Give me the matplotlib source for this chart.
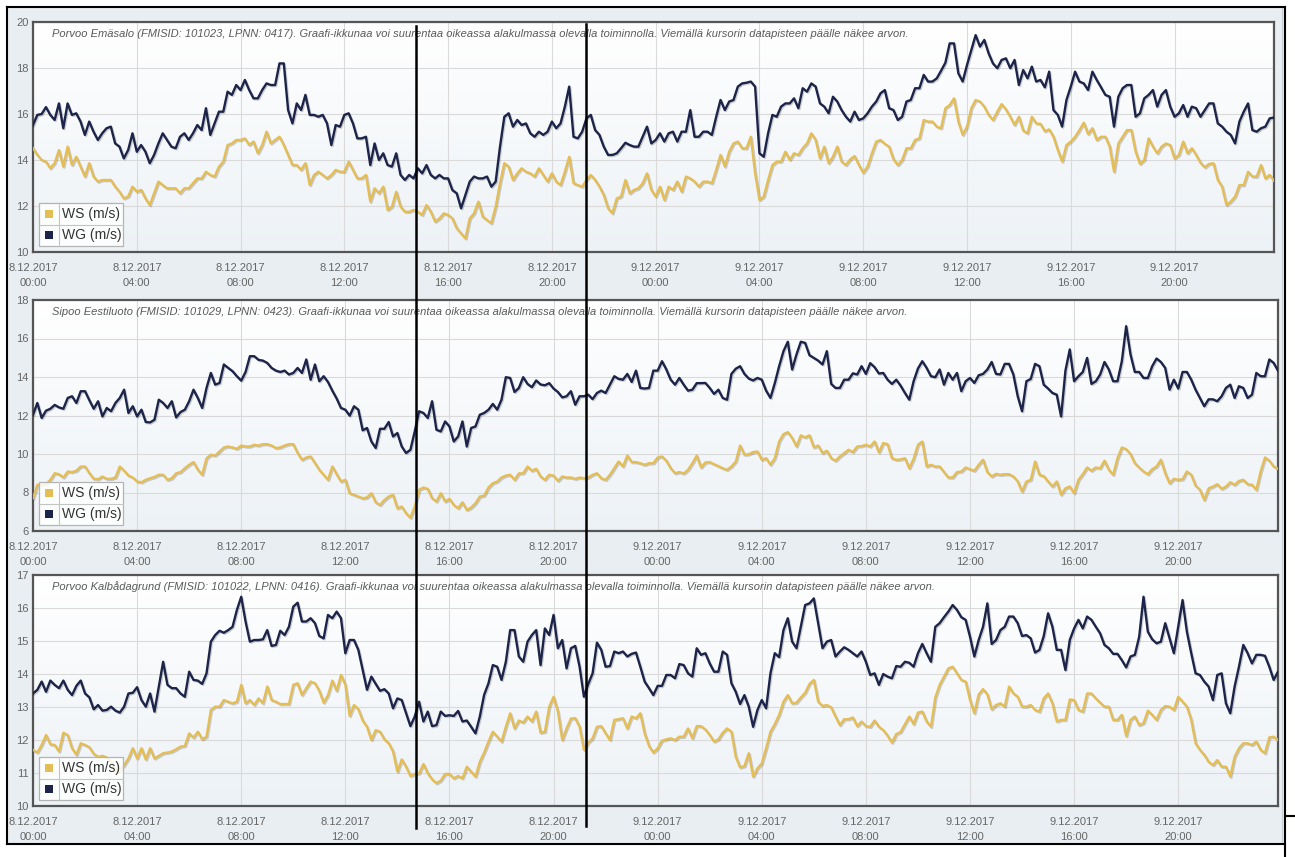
import numpy as np
import pandas as pd
import matplotlib
matplotlib.use("Agg")
import matplotlib.pyplot as plt
import matplotlib.dates as mdates
import matplotlib.patheffects as pe
import matplotlib.transforms as mtransforms
from matplotlib.patches import Rectangle
from matplotlib.lines import Line2D
from matplotlib.colors import LinearSegmentedColormap
from matplotlib.ticker import MultipleLocator, NullFormatter

plt.rcParams['font.family'] = ['Liberation Sans', 'DejaVu Sans']

W, H = 1295, 857

# 10-minute observations, 8.12.2017 00:00 - 9.12.2017 23:50
times = pd.date_range("2017-12-08 00:00", periods=288, freq="10min")

series_labels = ["WS (m/s)", "WG (m/s)"]

emasalo_title = ("Porvoo Emäsalo (FMISID: 101023, LPNN: 0417). Graafi-ikkunaa voi suurentaa oikeassa "
                 "alakulmassa olevalla toiminnolla. Viemällä kursorin datapisteen päälle näkee arvon.")
eestiluoto_title = ("Sipoo Eestiluoto (FMISID: 101029, LPNN: 0423). Graafi-ikkunaa voi suurentaa oikeassa "
                    "alakulmassa olevalla toiminnolla. Viemällä kursorin datapisteen päälle näkee arvon.")
kalbadagrund_title = ("Porvoo Kalbådagrund (FMISID: 101022, LPNN: 0416). Graafi-ikkunaa voi suurentaa oikeassa "
                      "alakulmassa olevalla toiminnolla. Viemällä kursorin datapisteen päälle näkee arvon.")

emasalo_wg = [
    15.52, 15.96, 16.0, 16.3, 15.96, 15.74, 16.46, 15.38, 16.46, 15.96,
    16.03, 15.67, 15.09, 15.67, 15.23, 14.87, 15.16, 15.38, 15.45, 14.72,
    14.58, 14.07, 14.43, 15.16, 14.36, 14.65, 14.36, 13.86, 14.22, 14.72,
    15.16, 14.87, 14.58, 14.51, 15.01, 15.16, 14.87, 15.16, 15.52, 15.30,
    16.25, 15.09, 15.59, 16.1, 16.1, 16.97, 16.83, 17.26, 17.04, 17.48,
    17.04, 16.68, 16.68, 17.04, 17.33, 17.26, 17.26, 18.2, 18.2, 16.17,
    15.59, 16.46, 16.17, 16.83, 15.96, 15.96, 15.88, 15.96, 15.59, 14.65,
    15.52, 15.45, 15.96, 16.03, 15.59, 14.94, 14.94, 15.01, 13.78, 14.72,
    14.0, 14.29, 13.78, 13.71, 14.29, 13.35, 13.13, 13.35, 13.2, 13.64,
    13.42, 13.78, 13.35, 13.2, 13.35, 13.2,
    13.2, 12.69, 12.55, 11.9, 12.48, 13.06, 13.28, 13.2, 13.2, 13.28,
    12.84, 13.06, 14.58, 15.88, 16.03, 15.45, 15.74, 15.52, 15.59, 15.16,
    15.01, 15.23, 15.09, 15.23, 15.67, 15.38, 15.59, 16.32, 17.19, 15.01,
    14.94, 15.23, 15.81, 15.96, 15.3, 15.09, 14.58, 14.22, 14.22, 14.29,
    14.51, 14.75, 14.65, 14.58, 14.58, 15.01, 15.45, 14.72, 14.87, 15.16,
    14.8, 15.16, 15.23, 14.8, 15.23, 15.23, 16.17, 15.01, 15.01, 15.23,
    15.23, 15.09, 15.88, 16.61, 16.17, 16.54, 16.61, 17.19, 17.33, 17.36,
    17.41, 17.19, 14.29, 14.14, 15.16, 15.96, 15.88, 16.32, 16.46, 16.46,
    16.68, 16.25, 17.12, 16.97, 17.33, 17.19, 16.46, 16.32, 16.03, 16.75,
    16.54, 16.17, 15.88,
    15.67, 16.1, 15.74, 15.81, 16.03, 16.32, 16.54, 16.9, 17.04, 16.25,
    16.17, 15.74, 15.88, 16.54, 16.61, 17.12, 17.12, 17.7, 17.41, 17.41,
    17.55, 17.88, 18.23, 19.07, 19.07, 17.77, 17.41, 18.13, 18.78, 19.43,
    18.93, 19.22, 18.64, 18.2, 17.99, 18.35, 18.42, 17.99, 18.35, 17.26,
    17.91, 17.55, 18.06, 17.41, 17.48, 17.16, 17.84, 16.17, 15.96, 15.45,
    16.61, 17.19, 17.84, 17.41, 17.33, 17.04, 17.84, 17.48, 17.16, 16.83,
    16.75, 15.45, 16.75, 17.12, 17.26, 17.26, 15.88, 16.03, 16.68, 16.83,
    17.04, 16.32, 16.83, 17.04, 16.32, 15.88, 16.03, 16.39, 15.88, 16.32,
    16.25, 15.88, 16.17, 16.46, 16.46, 15.59, 15.45, 15.23, 15.09, 14.72,
    15.67, 16.1, 16.46, 15.3, 15.23, 15.38, 15.45, 15.81, 15.85,
]

emasalo_ws = [
    14.51, 14.22, 14.0, 13.93, 13.64, 13.86, 14.43, 13.71, 14.58, 13.78,
    14.14, 13.71, 13.28, 13.86, 13.28, 13.06, 13.13, 13.13, 13.13, 12.84,
    12.62, 12.33, 12.41, 12.84, 12.62, 12.7, 12.33, 12.04, 12.55, 13.06,
    12.91, 12.77, 12.77, 12.77, 12.55, 12.77, 12.77, 12.99, 13.2, 13.2,
    13.49, 13.35, 13.28, 13.71, 13.93, 14.65, 14.72, 14.87, 14.87, 14.94,
    14.65, 14.8, 14.29, 14.65, 15.23, 14.72, 14.87, 15.01, 14.65, 14.22,
    13.78, 13.78, 13.57, 13.86, 12.91, 13.35, 13.49, 13.35, 13.2, 13.35,
    13.57, 13.49, 13.49, 13.93, 13.57, 13.2, 13.2, 13.35, 12.19, 12.77,
    12.55, 12.84, 11.83, 11.97, 12.62, 11.97, 11.75, 11.75, 11.83, 11.75,
    11.61, 12.04, 11.75, 11.32, 11.46, 11.68,
    11.61, 11.46, 11.03, 10.81, 10.59, 11.46, 11.68, 12.19, 11.54, 11.39,
    11.25, 11.97, 12.99, 13.86, 13.71, 13.13, 13.42, 13.64, 13.49, 13.42,
    13.28, 13.64, 13.35, 13.06, 13.42, 13.06, 12.91, 13.49, 14.14, 12.99,
    12.91, 12.84, 13.13, 13.35, 13.13, 12.84, 12.48, 11.9, 11.68, 12.33,
    12.41, 13.13, 12.55, 12.7, 12.77, 12.99, 13.42, 12.7, 12.41, 12.84,
    12.26, 12.84, 12.7, 13.06, 12.62, 13.28, 13.2, 13.06, 12.84, 13.06,
    13.06, 12.99, 13.57, 14.22, 13.71, 14.36, 14.72, 14.8, 14.51, 14.51,
    15.01, 13.42, 12.26, 12.41, 13.13, 13.78, 13.93, 13.93, 14.36, 14.0,
    14.29, 14.22, 14.51, 14.72, 15.16, 14.87, 14.07, 14.58, 13.86, 14.14,
    14.58, 13.93, 13.78,
    14.03, 14.17, 13.78, 13.45, 13.71, 14.29, 14.8, 14.87, 14.7, 14.58,
    14.03, 13.78, 14.0, 14.51, 14.51, 14.87, 14.94, 15.74, 15.67, 15.67,
    15.45, 15.38, 16.25, 16.39, 16.68, 15.67, 15.09, 15.45, 16.25, 16.61,
    16.54, 16.32, 15.96, 15.74, 16.1, 16.43, 16.2, 15.88, 15.52, 15.88,
    15.28, 15.16, 15.88, 15.59, 15.57, 15.25, 15.33, 15.01, 14.43, 13.93,
    14.65, 14.8, 15.01, 15.3, 15.62, 15.13, 15.38, 14.87, 15.01, 15.01,
    14.58, 13.49, 14.72, 15.01, 15.3, 15.3, 14.36, 13.83, 14.0, 14.94,
    14.58, 14.29, 14.58, 14.72, 14.65, 14.07, 14.22, 14.8, 14.29, 14.51,
    14.22, 13.88, 13.68, 13.83, 13.86, 13.13, 12.84, 12.04, 12.19, 12.41,
    12.91, 12.91, 13.49, 13.28, 13.28, 13.78, 13.2, 13.35, 13.1,
]

eestiluoto_wg = [
    12.04, 12.65, 11.87, 12.25, 12.35, 12.55, 12.42, 12.35, 12.91, 13.0,
    12.65, 13.26, 13.26, 12.79, 12.35, 12.74, 11.95, 12.39, 12.22, 12.65,
    12.91, 13.34, 12.13, 12.48, 11.95, 12.3, 11.66, 11.64, 11.78, 12.82,
    12.65, 12.39, 12.74, 11.9, 12.18, 12.3, 12.74, 13.34, 12.91, 12.39,
    13.43, 14.21, 13.6, 13.69, 14.65, 14.47, 14.3, 14.04, 13.81, 14.26,
    15.08, 15.08, 14.89, 14.85, 14.73, 14.47, 14.33, 14.26, 14.33, 14.13,
    14.21, 14.47, 14.21, 14.91, 13.86, 14.65, 13.78, 14.04, 13.74, 13.29,
    12.88, 12.39, 12.3, 11.99, 12.48, 12.3, 11.23, 11.35, 10.65, 10.31,
    11.31, 11.31, 11.66, 10.91, 11.09, 10.39, 10.05, 10.22, 11.17, 12.22,
    12.13, 11.87, 12.74, 11.26, 11.17, 11.69,
    11.43, 10.65, 10.91, 11.69, 10.39, 11.35, 11.43, 12.04, 12.13, 12.3,
    12.6, 12.3, 12.82, 13.99, 13.95, 13.22, 13.43, 13.99, 13.64, 13.47,
    13.82, 13.61, 13.57, 13.68, 13.4, 13.22, 12.94, 13.0, 13.26, 12.56,
    13.0, 13.0, 13.08, 12.85, 13.17, 13.29, 13.17, 13.6, 14.04, 13.9,
    13.86, 14.16, 13.74, 14.33, 13.43, 13.4, 13.43, 14.33, 14.33, 14.82,
    14.39, 13.86, 13.6, 13.95, 13.6, 13.29, 13.34, 13.68, 13.68, 13.69,
    13.43, 13.12, 13.34, 12.91, 12.82, 14.16, 14.43, 14.56, 14.16, 13.92,
    13.82, 13.95, 13.86, 13.29, 12.91, 13.68, 14.56, 15.34, 15.83, 14.39,
    15.17, 15.83, 15.77, 15.13, 14.99, 14.85, 14.65, 15.34, 13.64, 13.43,
    13.43, 13.86, 13.86,
    14.19, 14.13, 14.56, 14.16, 14.72, 14.51, 14.18, 14.21, 13.86, 13.64,
    13.86, 13.55, 13.17, 12.82, 13.78, 14.44, 14.82, 14.47, 14.04, 13.99,
    14.39, 13.6, 14.21, 13.86, 14.21, 13.26, 13.78, 13.95, 13.69, 14.09,
    14.16, 14.39, 14.78, 14.16, 14.13, 14.68, 14.68, 14.13, 13.0, 12.22,
    13.78, 13.9, 14.68, 14.56, 13.6, 13.4, 13.17, 13.08, 11.95, 14.33,
    15.43, 13.78, 14.04, 14.26, 14.99, 13.64, 13.78, 14.13, 14.78, 14.39,
    13.78, 13.78, 14.82, 16.64, 15.17, 14.26, 14.26, 13.95, 13.95, 14.56,
    14.96, 14.78, 14.47, 13.34, 13.86, 13.4, 14.26, 14.26, 13.86, 13.34,
    12.91, 12.48, 12.84, 12.84, 12.74, 13.0, 13.43, 13.6, 12.91, 13.52,
    13.43, 12.91, 13.08, 14.21, 14.04, 14.04, 14.91, 14.73, 14.33,
]

eestiluoto_ws = [
    7.7, 8.4, 8.4, 8.43, 8.66, 9.0, 8.95, 8.78, 9.09, 9.06,
    9.13, 9.35, 9.35, 9.0, 8.71, 8.69, 8.83, 8.71, 8.71, 8.78,
    9.35, 9.13, 8.88, 8.78, 8.57, 8.53, 8.66, 8.74, 8.81, 8.92,
    8.92, 8.66, 8.74, 9.0, 9.06, 9.26, 9.44, 9.58, 9.18, 8.92,
    9.78, 9.96, 9.92, 10.13, 10.34, 10.39, 10.34, 10.27, 10.44, 10.39,
    10.39, 10.48, 10.44, 10.51, 10.51, 10.44, 10.31, 10.34, 10.44, 10.51,
    10.51, 10.05, 9.7, 9.82, 9.87, 9.52, 9.18, 8.92, 8.66, 9.35,
    8.95, 8.57, 8.66, 7.96, 7.88, 7.79, 7.7, 7.74, 7.96, 7.49,
    7.35, 7.61, 7.79, 7.88, 7.18, 7.27, 6.92, 6.69, 7.27, 8.14,
    8.26, 8.19, 7.7, 7.53, 7.96, 7.53,
    7.67, 7.35, 7.18, 7.49, 7.09, 7.22, 7.44, 7.79, 7.84, 8.26,
    8.48, 8.57, 8.78, 8.88, 8.92, 8.66, 8.99, 9.0, 9.35, 9.13,
    9.23, 8.83, 8.66, 8.92, 8.88, 8.6, 8.83, 8.78, 8.78, 8.71,
    8.78, 8.74, 8.78, 8.92, 9.0, 8.74, 8.66, 8.92, 9.26, 9.61,
    9.35, 9.92, 9.58, 9.58, 9.52, 9.44, 9.52, 9.52, 9.82, 9.87,
    9.65, 9.26, 9.0, 9.06, 8.99, 9.18, 9.52, 9.92, 9.3, 9.56,
    9.58, 9.47, 9.37, 9.26, 9.18, 9.35, 9.61, 10.44, 9.96, 9.99,
    10.1, 10.13, 9.7, 9.78, 9.44, 9.78, 10.65, 11.03, 11.14, 10.83,
    10.39, 10.97, 10.86, 10.97, 10.34, 10.44, 10.05, 10.17, 9.78, 9.65,
    9.87, 10.05, 10.22,
    10.1, 10.39, 10.41, 10.48, 10.39, 10.65, 10.08, 10.57, 10.51, 9.78,
    9.7, 9.72, 9.78, 9.26, 9.75, 10.48, 10.65, 9.35, 9.44, 9.35,
    9.35, 9.06, 8.78, 8.78, 9.06, 9.09, 9.3, 9.21, 9.13, 9.44,
    9.7, 9.06, 8.83, 8.97, 8.92, 8.95, 8.95, 8.83, 8.57, 8.05,
    8.57, 8.66, 9.61, 8.92, 8.85, 8.57, 8.31, 8.57, 7.88, 8.22,
    8.31, 7.96, 8.66, 8.95, 9.3, 9.13, 9.3, 9.26, 9.65, 9.18,
    8.92, 9.78, 10.34, 10.25, 9.99, 9.52, 9.3, 9.09, 8.95, 9.21,
    9.35, 9.7, 9.0, 8.48, 8.71, 8.66, 8.69, 9.09, 8.92, 8.36,
    8.14, 7.61, 8.22, 8.31, 8.43, 8.19, 8.31, 8.53, 8.4, 8.6,
    8.66, 8.43, 8.4, 8.14, 9.09, 9.82, 9.65, 9.35, 9.23,
]

kalbadagrund_wg = [
    13.41, 13.52, 13.77, 13.46, 13.8, 13.67, 13.57, 13.8, 13.52, 13.36,
    13.64, 13.8, 13.41, 13.29, 12.93, 13.06, 12.89, 12.91, 13.01, 12.89,
    12.83, 13.01, 13.41, 13.43, 13.6, 13.21, 13.01, 13.41, 12.86, 13.62,
    14.37, 13.67, 13.57, 13.57, 13.41, 13.31, 14.07, 13.82, 13.8, 13.7,
    14.02, 14.98, 15.18, 15.31, 15.25, 15.33, 15.43, 15.94, 16.34, 15.59,
    14.98, 15.03, 15.03, 15.05, 15.33, 14.85, 14.88, 15.31, 15.18, 15.43,
    16.04, 16.16, 15.59, 15.59, 15.69, 15.54, 15.15, 15.08, 15.79, 15.69,
    15.89, 15.69, 14.63, 15.03, 15.03, 14.73, 14.12, 13.52, 13.92, 13.7,
    13.49, 13.54, 13.41, 12.96, 13.26, 13.21, 12.81, 12.42, 12.71, 13.16,
    12.56, 12.86, 12.42, 12.45, 12.86, 12.73,
    12.75, 12.73, 12.88, 12.56, 12.59, 12.4, 12.2, 12.71, 13.37, 13.72,
    14.27, 14.22, 13.82, 14.37, 15.33, 15.33, 14.53, 14.37, 14.98, 15.18,
    15.33, 14.27, 15.38, 15.18, 15.79, 14.78, 15.03, 14.17, 14.78, 14.85,
    14.22, 13.31, 13.7, 14.02, 14.95, 14.73, 14.22, 14.24, 14.68, 14.63,
    14.68, 14.53, 14.61, 14.65, 14.22, 13.77, 13.57, 13.36, 13.64, 13.64,
    13.97, 13.97, 13.87, 14.3, 14.27, 14.02, 13.92, 14.78, 14.58, 14.63,
    14.32, 14.07, 14.07, 14.68, 14.58, 13.72, 13.46, 13.09, 13.36, 13.01,
    12.4, 12.91, 13.21, 12.96, 14.02, 14.63, 14.51, 15.33, 15.69, 14.98,
    14.78, 15.43, 16.09, 16.14, 16.29, 15.54, 14.78, 14.98, 15.03, 14.53,
    14.68, 14.81, 14.73,
    14.63, 14.53, 14.68, 14.37, 13.97, 14.02, 13.67, 14.0, 13.92, 13.87,
    14.24, 14.22, 14.37, 14.34, 14.22, 14.63, 14.91, 14.63, 14.37, 15.43,
    15.54, 15.72, 15.89, 16.09, 15.94, 15.72, 15.64, 15.13, 14.53, 15.03,
    15.43, 16.14, 14.91, 15.03, 15.33, 15.43, 15.74, 15.74, 15.54, 15.15,
    15.18, 15.08, 14.65, 14.73, 15.15, 15.84, 15.43, 14.73, 14.73, 14.12,
    15.03, 15.38, 15.64, 15.38, 15.74, 15.64, 15.43, 15.23, 14.88, 14.78,
    14.61, 14.61, 14.42, 14.2, 14.53, 14.58, 15.13, 16.34, 15.28, 15.05,
    14.93, 14.98, 15.54, 15.08, 14.63, 15.43, 16.24, 15.28, 14.63, 14.02,
    13.97, 13.77, 13.62, 13.21, 13.97, 14.02, 13.11, 12.81, 13.62, 14.22,
    14.88, 14.63, 14.32, 14.58, 14.58, 14.55, 14.22, 13.82, 14.07,
]

kalbadagrund_ws = [
    11.7, 11.62, 11.85, 12.15, 11.87, 11.85, 11.65, 12.22, 12.15, 11.75,
    11.55, 11.9, 11.85, 11.78, 11.58, 11.49, 11.52, 11.47, 11.34, 10.99,
    11.09, 11.24, 11.44, 11.75, 11.44, 11.75, 11.41, 11.75, 11.44, 11.52,
    11.6, 11.62, 11.65, 11.72, 11.8, 11.82, 12.2, 12.07, 12.25, 12.02,
    12.1, 12.91, 13.01, 13.01, 13.21, 13.16, 13.11, 13.16, 13.67, 13.11,
    13.21, 13.06, 13.26, 13.11, 13.62, 13.21, 13.16, 13.09, 13.09, 13.09,
    13.67, 13.72, 13.36, 13.57, 13.77, 13.72, 13.49, 13.13, 13.36, 13.8,
    13.49, 13.97, 13.67, 12.73, 13.06, 12.93, 12.59, 12.4, 12.0, 12.3,
    12.25, 12.02, 11.9, 11.65, 11.04, 11.41, 11.19, 10.91, 10.97, 10.99,
    11.27, 10.99, 10.81, 10.69, 10.77, 10.97,
    10.97, 10.84, 10.91, 10.84, 11.19, 11.04, 10.89, 11.34, 11.62, 11.95,
    12.25, 12.1, 11.95, 12.4, 12.81, 12.35, 12.59, 12.53, 12.71, 12.56,
    12.86, 12.22, 12.25, 13.01, 13.31, 12.86, 12.0, 12.35, 12.65, 12.66,
    12.4, 11.7, 11.92, 12.05, 12.4, 12.42, 12.2, 12.0, 12.61, 12.63,
    12.66, 12.35, 12.71, 12.66, 12.81, 12.2, 11.82, 11.62, 11.75, 11.98,
    12.02, 12.05, 12.0, 12.1, 12.1, 12.35, 12.05, 12.42, 12.42, 12.32,
    12.15, 11.95, 12.02, 12.22, 12.35, 12.25, 11.49, 11.17, 11.21, 11.6,
    10.89, 11.14, 11.29, 11.75, 12.25, 12.48, 12.76, 13.16, 13.36, 13.11,
    13.13, 13.29, 13.43, 13.7, 13.82, 13.16, 13.03, 13.06, 12.99, 12.71,
    12.45, 12.63, 12.63,
    12.68, 12.42, 12.56, 12.42, 12.4, 12.59, 12.4, 12.3, 12.13, 11.92,
    12.18, 12.24, 12.48, 12.71, 12.48, 12.83, 12.86, 12.56, 12.4, 13.29,
    13.67, 13.92, 14.17, 14.22, 14.02, 13.82, 13.77, 13.21, 12.81, 13.38,
    13.54, 13.38, 12.93, 13.06, 13.11, 13.01, 13.62, 13.41, 13.31, 13.01,
    13.01, 13.06, 12.91, 12.86, 13.26, 13.41, 13.11, 12.56, 12.61, 12.61,
    13.23, 13.21, 12.91, 12.86, 13.41, 13.41, 13.26, 13.13, 13.01, 13.01,
    12.61, 12.61, 12.76, 12.12, 12.61, 12.71, 12.45, 12.51, 12.89, 12.76,
    12.61, 12.91, 13.03, 13.01, 12.91, 13.31, 13.16, 13.01, 12.61, 11.9,
    11.7, 11.55, 11.34, 11.24, 11.39, 11.19, 11.19, 10.89, 11.49, 11.75,
    11.9, 11.9, 11.85, 11.95, 11.7, 11.6, 12.08, 12.1, 12.0,
]

WS_COLOR = "#e4bd55"
WG_COLOR = "#1c2449"
BG_COLOR = "#e9eef2"
TEXT_COLOR = "#666666"

# plot boxes in pixels: left, top, right, bottom
panels = [
    dict(title=emasalo_title, ws=emasalo_ws, wg=emasalo_wg, ylim=(10, 20), ystep=2,
         box=(33, 22, 1274, 252)),
    dict(title=eestiluoto_title, ws=eestiluoto_ws, wg=eestiluoto_wg, ylim=(6, 18), ystep=2,
         box=(33, 300, 1278, 531)),
    dict(title=kalbadagrund_title, ws=kalbadagrund_ws, wg=kalbadagrund_wg, ylim=(10, 17), ystep=1,
         box=(33, 575, 1278, 806)),
]


def fx(px):
    return px / W


def fy(py):
    return 1 - py / H


def fig_rect(l, t, r, b):
    return [l / W, 1 - b / H, (r - l) / W, (b - t) / H]


fig = plt.figure(figsize=(W / 100, H / 100), dpi=100)
fig.patch.set_facecolor("white")

# chart container background
fig.add_artist(Rectangle((fx(7), fy(844)), fx(1285) - fx(7), fy(7) - fy(844),
                         transform=fig.transFigure, facecolor=BG_COLOR,
                         edgecolor="none", zorder=-10))

grad = np.linspace(0, 1, 256).reshape(-1, 1)
plot_bg = LinearSegmentedColormap.from_list("plot_bg", ["#ffffff", "#edf2f6"])
shadow = [pe.SimpleLineShadow(offset=(0.8, -0.8), shadow_color="black", alpha=0.18),
          pe.Normal()]
tick_hours = mdates.HourLocator(byhour=range(0, 24, 4))

for p in panels:
    ax = fig.add_axes(fig_rect(*p["box"]))
    ax.imshow(grad, extent=[0, 1, 0, 1], transform=ax.transAxes, cmap=plot_bg,
              aspect="auto", origin="upper", zorder=0, interpolation="bilinear")
    ax.plot(times, p["ws"], color=WS_COLOR, lw=1.7, zorder=3,
            solid_joinstyle="round", path_effects=shadow)
    ax.plot(times, p["wg"], color=WG_COLOR, lw=1.7, zorder=4,
            solid_joinstyle="round", path_effects=shadow)
    ax.set_xlim(times[0], times[-1])
    ax.set_ylim(*p["ylim"])
    ax.yaxis.set_major_locator(MultipleLocator(p["ystep"]))
    ax.xaxis.set_major_locator(tick_hours)
    ax.xaxis.set_major_formatter(NullFormatter())
    ax.tick_params(axis="both", length=0, labelsize=8, labelcolor=TEXT_COLOR)
    ax.tick_params(axis="y", pad=3)
    ax.grid(True, color="#dadada", lw=0.8)
    ax.set_axisbelow(True)
    for s in ax.spines.values():
        s.set_color("#555555")
        s.set_linewidth(1.6)

    # two-line date/time labels under every 4-hour gridline
    xform = mtransforms.blended_transform_factory(ax.transData, ax.transAxes)
    for tv in ax.get_xticks():
        d = mdates.num2date(tv)
        for text, off in [(f"{d.day}.{d.month}.{d.year}", 16), (f"{d:%H:%M}", 31)]:
            ax.text(tv, 0, text, transform=xform + mtransforms.ScaledTranslation(0, -off / 100, fig.dpi_scale_trans),
                    ha="center", va="center", fontsize=8, color=TEXT_COLOR, clip_on=False)

    l, t, r, b = p["box"]
    fig.text(fx(l + 19), fy(t + 12), p["title"], fontsize=8.0, style="italic",
             color="#5a5a5a", va="center", ha="left", zorder=3)

    # legend table in the lower-left corner
    lg_l, lg_r, lg_b = l + 6, l + 90, b - 6
    lg_t = lg_b - 43
    fig.add_artist(Rectangle((fx(lg_l), fy(lg_b)), fx(lg_r) - fx(lg_l), fy(lg_t) - fy(lg_b),
                             transform=fig.transFigure, facecolor="white", alpha=0.85,
                             edgecolor="none", zorder=4))
    fig.add_artist(Rectangle((fx(lg_l), fy(lg_b)), fx(lg_r) - fx(lg_l), fy(lg_t) - fy(lg_b),
                             transform=fig.transFigure, facecolor="none",
                             edgecolor="#b4b4b4", lw=0.9, zorder=4.1))
    mid = (lg_t + lg_b) / 2
    fig.add_artist(Line2D([fx(lg_l), fx(lg_r)], [fy(mid), fy(mid)], color="#c4c4c4",
                          lw=0.8, transform=fig.transFigure, zorder=4.1))
    fig.add_artist(Line2D([fx(lg_l + 20), fx(lg_l + 20)], [fy(lg_t), fy(lg_b)], color="#c4c4c4",
                          lw=0.8, transform=fig.transFigure, zorder=4.1))
    for i, (lab, col) in enumerate(zip(series_labels, [WS_COLOR, WG_COLOR])):
        cy = lg_t + 10.75 + i * 21.5
        fig.add_artist(Rectangle((fx(lg_l + 6), fy(cy + 4)), fx(8), fy(0) - fy(8),
                                 transform=fig.transFigure, facecolor=col,
                                 edgecolor="none", zorder=4.2))
        fig.text(fx(lg_l + 23), fy(cy), lab, fontsize=10, color="#333333",
                 va="center", ha="left", zorder=4.2)

# marker lines and outer frame
for xpx, y0, y1 in [(415.5, 26, 828), (585.5, 24, 826)]:
    fig.add_artist(Line2D([fx(xpx), fx(xpx)], [fy(y0), fy(y1)], color="black",
                          lw=1.8, transform=fig.transFigure, zorder=6))
frame = [((7, 7), (1285, 7)), ((7, 7), (7, 844)), ((7, 844), (1285, 844)),
         ((1285, 7), (1285, 857)), ((1285, 816), (1295, 816))]
for (x0, y0), (x1, y1) in frame:
    fig.add_artist(Line2D([fx(x0), fx(x1)], [fy(y0), fy(y1)], color="black",
                          lw=1.5, transform=fig.transFigure, zorder=6))
fig.add_artist(Line2D([fx(1281.5), fx(1281.5)], [fy(8), fy(843)], color="#c9d0d5",
                      lw=0.8, transform=fig.transFigure, zorder=5))

fig.savefig("out.png", dpi=100, facecolor=fig.get_facecolor())
